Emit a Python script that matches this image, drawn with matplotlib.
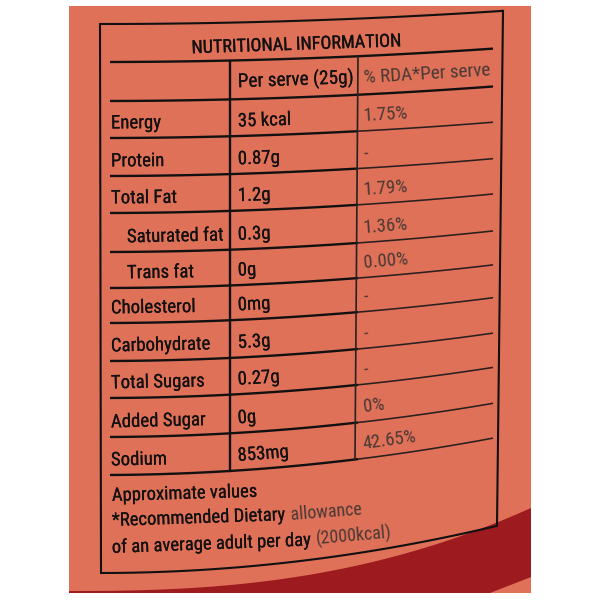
import os
import numpy as np
import matplotlib
matplotlib.use("Agg")
import matplotlib.pyplot as plt
from matplotlib import font_manager as fm
from matplotlib.font_manager import FontProperties
import matplotlib.patheffects as pe

# ---------------- data ----------------
title = "NUTRITIONAL INFORMATION"
col_headers = ["Per serve (25g)", "% RDA*Per serve"]
nutrients = ["Energy", "Protein", "Total Fat", "Saturated fat", "Trans fat",
             "Cholesterol", "Carbohydrate", "Total Sugars", "Added Sugar", "Sodium"]
sub_items = ["Saturated fat", "Trans fat"]
per_serve = ["35 kcal", "0.87g", "1.2g", "0.3g", "0g", "0mg", "5.3g", "0.27g", "0g", "853mg"]
rda = ["1.75%", "-", "1.79%", "1.36%", "0.00%", "-", "-", "-", "0%", "42.65%"]
footer_notes = ["Approximate values",
                "*Recommended Dietary allowance",
                "of an average adult per day (2000kcal)"]


# ---------------- font: look for a narrow sans ----------------
def find_narrow_font():
    files = set(fm.findSystemFonts())
    files.update(f.fname for f in fm.fontManager.ttflist)
    prefs = ["notosans-extracondensed.", "notosans-extracondensed-regular",
             "notosans-extracondensedregular",
             "liberationsansnarrow-regular", "robotocondensed-regular", "roboto_condensed-regular",
             "opensans-condregular", "opensans_condensed-regular", "opensans-condensed-regular",
             "notosans-condensed.", "notosans-condensed-regular", "notosans-condensedregular",
             "notosans-semicondensed.", "dejavusanscondensed."]
    lows = {f: os.path.basename(f).lower() for f in files}
    for p in prefs:
        for f, b in lows.items():
            if b.startswith(p):
                return f
    return None


NARROW = find_narrow_font()


def fp(size):
    if NARROW:
        return FontProperties(fname=NARROW, size=size)
    return FontProperties(family="Liberation Sans", size=size)


ORANGE = "#DF7159"
RED = "#9D1B1F"
INK = "#121010"
GRAY = "#4a3934"

fig = plt.figure(figsize=(6, 6), dpi=100, facecolor="white")
ax = fig.add_axes([0, 0, 1, 1])
ax.set_xlim(0, 600)
ax.set_ylim(600, 0)
ax.axis("off")
renderer = fig.canvas.get_renderer()


def measure(s, size=10):
    t = ax.text(0, 0, s, fontproperties=fp(size))
    w = t.get_window_extent(renderer).width
    t.remove()
    return w


def fit_size(s, target, lo, hi):
    return float(np.clip(10 * target / measure(s, 10), lo, hi))


BODY = fit_size("Carbohydrate", 99, 11.5, 16.5)
TITLE = fit_size(title, 210, 11, 17)
HEAD = fit_size(col_headers[0], 115, 11.5, 16.5)
RDAH = fit_size(col_headers[1], 127, 11, 16.5)
FOOT = fit_size(footer_notes[2], 280, 11.5, 16.5)


def drop(v):
    return 12.5 + 0.0205 * (v - 24) + 7.45e-5 * (v - 24) ** 2


def warp(x, v, d=None):
    s = np.clip((np.asarray(x, float) - 100) / 393.0, 0, None)
    dd = drop(v) if d is None else d
    return v - dd * s ** 2


def curve(x0, x1, v, d=None, **kw):
    xs = np.linspace(x0, x1, 80)
    ax.plot(xs, warp(xs, v, d), solid_capstyle="butt", **kw)


def place(x0, v, s, d=None, center=False, size=14, color=INK, bold=0.0):
    effects = [pe.withStroke(linewidth=bold, foreground=color)] if bold > 0 else []
    t = ax.text(x0, v, s, ha="left", va="baseline", rotation_mode="anchor",
                fontproperties=fp(size), color=color, path_effects=effects)
    w = t.get_window_extent(renderer).width
    if center:
        x0 = x0 - w / 2
    y0 = warp(x0, v, d)
    y1 = warp(x0 + w, v, d)
    ang = np.degrees(np.arctan2(y0 - y1, w))
    t.set_position((x0, y0))
    t.set_rotation(ang)
    return x0 + w


# ---------------- background label ----------------
ax.add_patch(plt.Rectangle((69, 6), 462, 587, facecolor=ORANGE, edgecolor="none", zorder=0))
bx = np.linspace(69, 531, 120)
by = 591 - 83 * ((bx - 69) / 462) ** 2.5
red_x = np.concatenate([bx, [531, 490, 69]])
red_y = np.concatenate([by, [577, 593, 593]])
ax.fill(red_x, red_y, color=RED, lw=0, zorder=0.5)

# ---------------- table frame ----------------
BOX_LW = 1.5
curve(100, 503, 24, color=INK, lw=BOX_LW)
curve(101, 497, 573, color=INK, lw=BOX_LW)
ax.plot([100, 101], [warp(100, 24), warp(101, 573)], color=INK, lw=BOX_LW)
ax.plot([503, 497], [warp(503, 24), warp(497, 573)], color=INK, lw=BOX_LW)

row_lines = [101, 138, 176, 213, 252, 288, 323, 361, 398, 437, 475]
curve(110, 493, 62, color=INK, lw=1.7)
curve(110, 493, 101, color=INK, lw=1.7)
for v in row_lines[1:]:
    curve(110, 358, v, color=INK, lw=1.7)
    curve(358, 493, v, color="#2a201e", lw=1.15)

ax.plot([230, 230], [warp(230, 62), warp(230, 475)], color=INK, lw=1.7)
ax.plot([358, 355], [warp(358, 62), warp(355, 475)], color="#2a201e", lw=1.2)

# ---------------- texts ----------------
place(296, 54, title, center=True, size=TITLE, bold=0.2)
place(238, 89, col_headers[0], size=HEAD, bold=0.1)
place(364, 89, col_headers[1], size=RDAH, color=GRAY)

for i, name in enumerate(nutrients):
    v = row_lines[i + 1] - 9.5
    xl = 127 if name in sub_items else 111
    place(xl, v, name, size=BODY, bold=0.1)
    place(238, v, per_serve[i], size=BODY, bold=0.1)
    place(364, v - 0.5, rda[i], size=BODY, color=GRAY)

FD = 26
place(112, 501, footer_notes[0], d=FD, size=FOOT, bold=0.1)
for line, base in zip(footer_notes[1:], [526, 553]):
    head, tail = line.rsplit(" ", 1)
    end = place(112, base, head, d=FD, size=FOOT, bold=0.1)
    place(end + 0.4 * FOOT, base, tail, d=FD, size=FOOT * 0.96, color=GRAY)

fig.savefig("out.png", dpi=100, facecolor="white")
